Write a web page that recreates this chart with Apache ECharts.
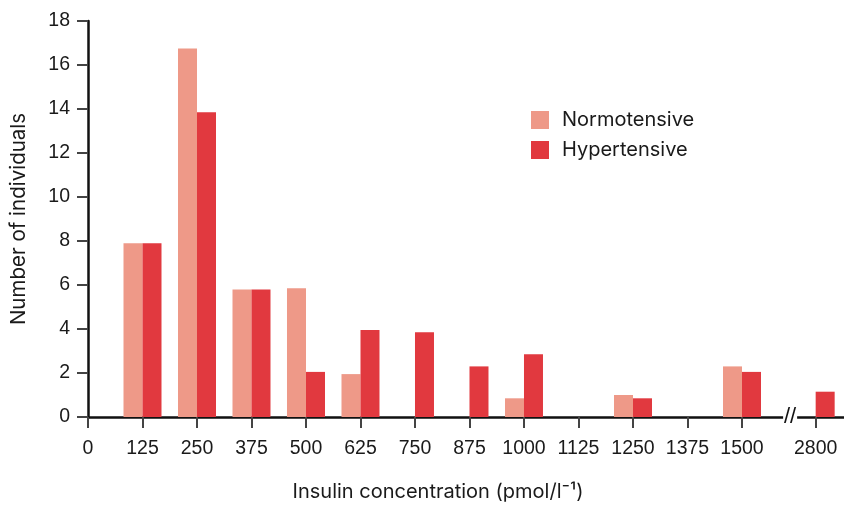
<!DOCTYPE html>
<html>
<head>
<meta charset="utf-8">
<script src="https://cdn.jsdelivr.net/npm/echarts@6.0.0/dist/echarts.min.js"></script>
<style>
html,body{margin:0;padding:0;background:#fff;}
#chart{width:844px;height:507px;}
</style>
</head>
<body>
<div id="chart"></div>
<script>
const insulinLevels = [125, 250, 375, 500, 625, 750, 875, 1000, 1125, 1250, 1375, 1500, 2800];
const normotensive = [7.9, 16.75, 5.8, 5.85, 1.95, 0, 0, 0.85, 0, 1.0, 0, 2.3, 0];
const hypertensive = [7.9, 13.85, 5.8, 2.05, 3.95, 3.85, 2.3, 2.85, 0, 0.85, 0, 2.05, 1.15];
const xTickLabels = [0, 125, 250, 375, 500, 625, 750, 875, 1000, 1125, 1250, 1375, 1500, 2800];
const yTicks = [0, 2, 4, 6, 8, 10, 12, 14, 16, 18];

const TICKFONT = '"Liberation Sans", Arial, Helvetica, sans-serif';
const NAMEFONT = 'Inter, "Liberation Sans", Arial, sans-serif';
const chart = echarts.init(document.getElementById('chart'));

const pairs = arr => insulinLevels.map((x, i) => [x, arr[i]]);

chart.setOption({
  animation: false,
  backgroundColor: '#fff',
  grid: { left: 88, right: 0, top: 21, bottom: 90, containLabel: false },
  legend: {
    orient: 'vertical',
    left: 526,
    top: 105,
    itemWidth: 18,
    itemHeight: 18,
    itemGap: 10,
    icon: 'rect',
    textStyle: { fontFamily: NAMEFONT, fontSize: 20, color: '#1a1a1a', padding: [0, 0, 0, 8] },
    data: ['Normotensive', 'Hypertensive']
  },
  xAxis: {
    type: 'value',
    min: 0,
    max: 2865,
    breaks: [{ start: 1615, end: 2756, gap: 10 }],
    breakArea: { show: false },
    name: 'Insulin concentration (pmol/l\u207B\u00B9)',
    nameLocation: 'middle',
    nameGap: 65,
    nameTextStyle: { fontFamily: NAMEFONT, fontSize: 20, color: '#1a1a1a', padding: [0, 56, 0, 0] },
    axisLine: { show: true, onZero: false, lineStyle: { color: '#111', width: 2.5 } },
    axisTick: { show: true, length: 11, inside: false, customValues: xTickLabels, lineStyle: { color: '#444', width: 2 } },
    axisLabel: { customValues: xTickLabels, margin: 22, fontFamily: TICKFONT, fontSize: 19.5, color: '#1a1a1a', formatter: v => String(v) },
    splitLine: { show: false }
  },
  yAxis: {
    type: 'value',
    min: yTicks[0],
    max: yTicks[yTicks.length - 1],
    interval: 2,
    name: 'Number of individuals',
    nameLocation: 'middle',
    nameGap: 59,
    nameTextStyle: { fontFamily: NAMEFONT, fontSize: 20.5, color: '#1a1a1a' },
    axisLine: { show: true, lineStyle: { color: '#111', width: 2.5 } },
    axisTick: { show: true, length: 11, lineStyle: { color: '#444', width: 2 } },
    axisLabel: { margin: 18, fontFamily: TICKFONT, fontSize: 19.5, color: '#1a1a1a', formatter: v => String(v) },
    splitLine: { show: false }
  },
  series: [
    {
      name: 'Normotensive',
      type: 'bar',
      data: pairs(normotensive),
      barWidth: 19,
      barGap: '0%',
      itemStyle: { color: '#EE9988' }
    },
    {
      name: 'Hypertensive',
      type: 'bar',
      data: pairs(hypertensive),
      barWidth: 19,
      barGap: '0%',
      itemStyle: { color: '#E1393F' }
    }
  ]
});

// break mark "//" on the x axis, placed through the axis scale
const yBase = chart.convertToPixel({ yAxisIndex: 0 }, 0);
const xBreak = chart.convertToPixel({ xAxisIndex: 0 }, 1615) - 2;
chart.setOption({
  graphic: [
    { type: 'rect', shape: { x: xBreak - 7, y: yBase - 3, width: 14, height: 6 }, style: { fill: '#fff' }, z: 100 },
    { type: 'text', x: xBreak, y: yBase, style: { text: '//', fontFamily: TICKFONT, fontSize: 22, fill: '#111', align: 'center', verticalAlign: 'middle' }, z: 101 }
  ]
});
</script>
</body>
</html>
